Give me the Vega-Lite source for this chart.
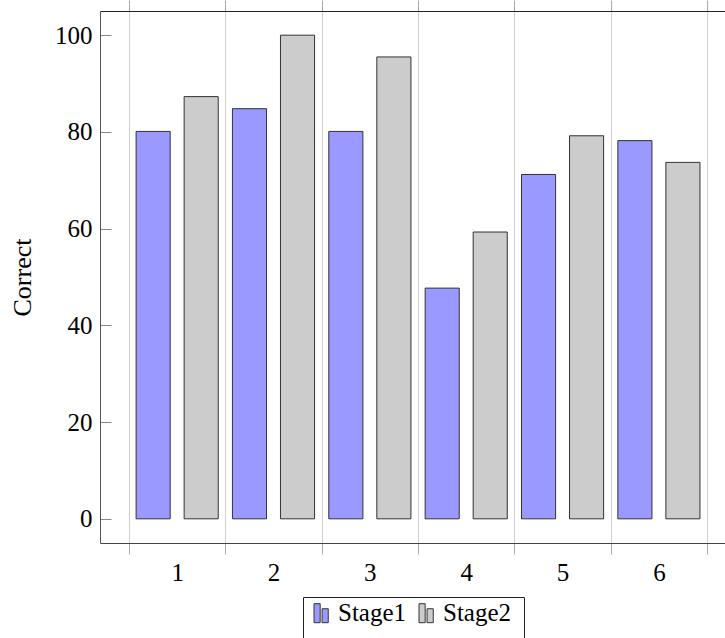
{
  "$schema": "https://vega.github.io/schema/vega-lite/v6.json",
  "width": 625,
  "height": 532,
  "autosize": {"type": "none"},
  "padding": {"left": 100, "top": 11, "right": 0, "bottom": 95},
  "background": "white",
  "config": {"view": {"stroke": null}, "font": "Liberation Serif"},
  "data": {
    "values": [
      {"Group": "1", "Stage": "Stage1", "Correct": 80.1},
      {"Group": "1", "Stage": "Stage2", "Correct": 87.3},
      {"Group": "2", "Stage": "Stage1", "Correct": 84.8},
      {"Group": "2", "Stage": "Stage2", "Correct": 100},
      {"Group": "3", "Stage": "Stage1", "Correct": 80.1},
      {"Group": "3", "Stage": "Stage2", "Correct": 95.5},
      {"Group": "4", "Stage": "Stage1", "Correct": 47.7},
      {"Group": "4", "Stage": "Stage2", "Correct": 59.3},
      {"Group": "5", "Stage": "Stage1", "Correct": 71.2},
      {"Group": "5", "Stage": "Stage2", "Correct": 79.2},
      {"Group": "6", "Stage": "Stage1", "Correct": 78.2},
      {"Group": "6", "Stage": "Stage2", "Correct": 73.7}
    ]
  },
  "resolve": {"axis": {"x": "independent"}},
  "layer": [
    {
      "mark": {"type": "bar", "stroke": "#333333", "strokeWidth": 1},
      "encoding": {
        "x": {
          "field": "Group",
          "type": "ordinal",
          "scale": {"paddingInner": 0, "paddingOuter": 0.2434, "align": 0.618},
          "axis": {
            "orient": "bottom",
            "title": null,
            "tickBand": "extent",
            "grid": true,
            "gridColor": "#d0d0d0",
            "gridWidth": 1,
            "ticks": true,
            "tickSize": 11,
            "tickColor": "#aaaaaa",
            "domainColor": "#444444",
            "labelAngle": 0,
            "labelFont": "Liberation Serif",
            "labelFontSize": 25,
            "labelColor": "#000000",
            "labelPadding": 6
          }
        },
        "xOffset": {
          "field": "Stage",
          "type": "nominal",
          "scale": {"paddingInner": 0.29, "paddingOuter": 0.148}
        },
        "y": {
          "field": "Correct",
          "type": "quantitative",
          "scale": {"domain": [-5, 105], "nice": false, "zero": false},
          "axis": {
            "values": [0, 20, 40, 60, 80, 100],
            "title": "Correct",
            "grid": false,
            "tickSize": -11,
            "tickColor": "#888888",
            "domainColor": "#555555",
            "labelFont": "Liberation Serif",
            "labelFontSize": 25,
            "labelColor": "#000000",
            "labelPadding": 19,
            "titleFont": "Liberation Serif",
            "titleFontSize": 26,
            "titleFontWeight": "normal",
            "titleColor": "#000000",
            "titlePadding": 19
          }
        },
        "color": {
          "field": "Stage",
          "type": "nominal",
          "scale": {"domain": ["Stage1", "Stage2"], "range": ["#9999ff", "#cccccc"]},
          "legend": {
            "title": null,
            "orient": "none",
            "legendX": 203,
            "legendY": 586,
            "direction": "horizontal",
            "strokeColor": "#222222",
            "padding": 12,
            "symbolType": "M-1,-1.9H-0.35V0.1H-1Z M-0.15,-1.37H0.5V0.1H-0.15Z",
            "symbolSize": 361,
            "symbolStrokeColor": "#333333",
            "symbolStrokeWidth": 1,
            "symbolOpacity": 1,
            "symbolOffset": -4,
            "labelFont": "Liberation Serif",
            "labelFontSize": 25,
            "labelColor": "#000000",
            "labelOffset": 2,
            "columnPadding": 10,
            "encode": {"labels": {"update": {"dy": {"value": -9}}}}
          }
        }
      }
    },
    {
      "mark": {"type": "bar", "opacity": 0},
      "encoding": {
        "x": {
          "field": "Group",
          "type": "ordinal",
          "axis": {
            "orient": "top",
            "title": null,
            "tickBand": "extent",
            "grid": false,
            "labels": false,
            "ticks": true,
            "tickSize": 11,
            "tickColor": "#aaaaaa",
            "domainColor": "#222222"
          }
        }
      }
    }
  ]
}
